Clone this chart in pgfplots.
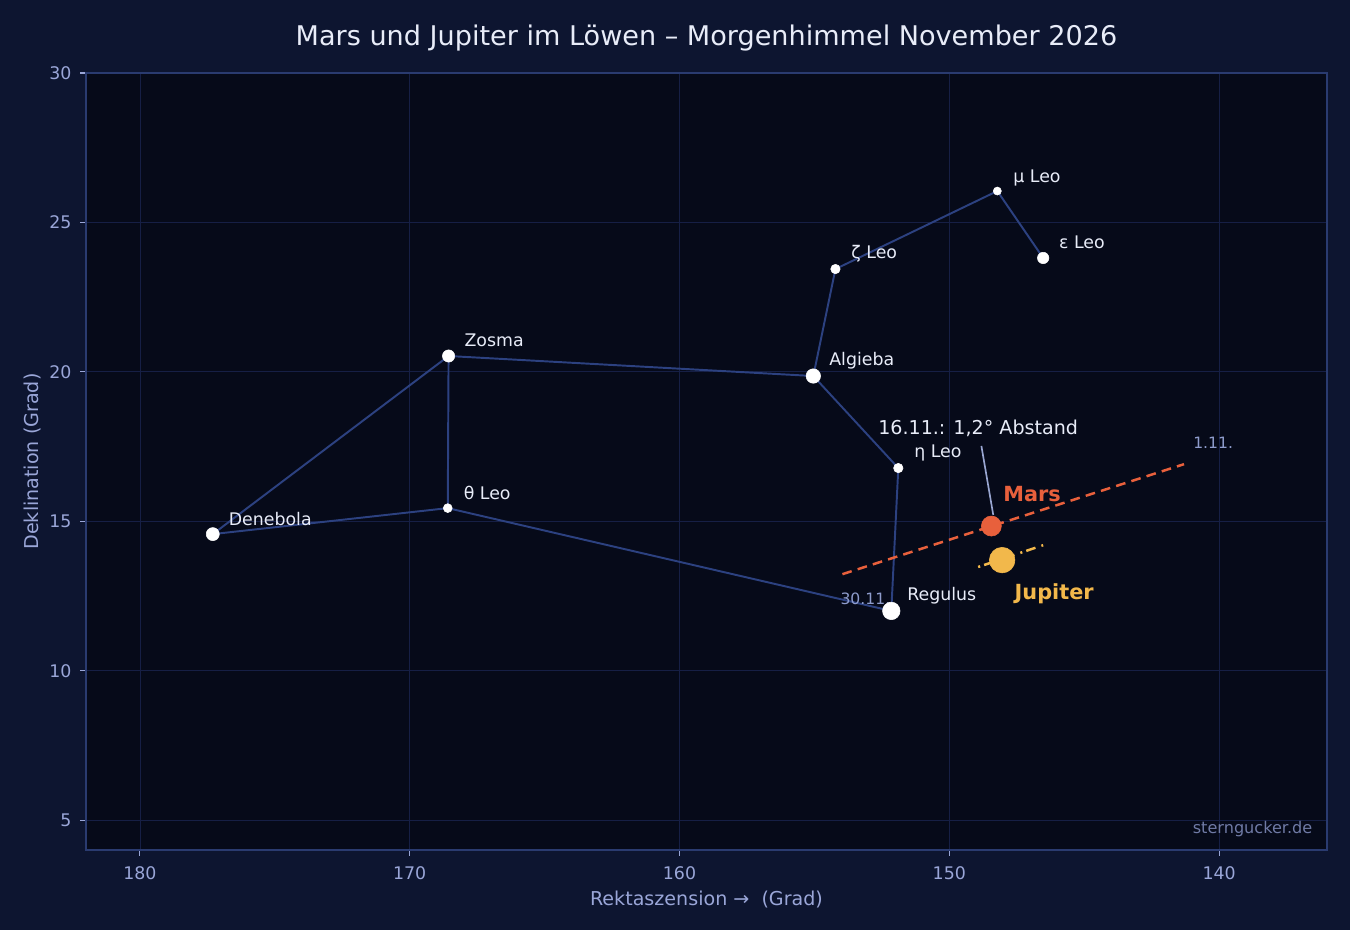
\documentclass[border=0pt]{standalone}
\usepackage{fontspec}
\setmainfont{DejaVu Sans}
\usepackage{pgfplots}
\pgfplotsset{compat=1.18}
\usepackage{pgfplotstable}

\definecolor{figbg}{HTML}{0D1530}
\definecolor{axbg}{HTML}{060A19}
\definecolor{axline}{HTML}{2A3B70}
\definecolor{gridc}{HTML}{161F45}
\definecolor{starline}{HTML}{2C4180}
\definecolor{ticklab}{HTML}{9AA6D8}
\definecolor{titlec}{HTML}{E8ECF8}
\definecolor{marsc}{HTML}{E8603C}
\definecolor{jupc}{HTML}{F2B84B}
\definecolor{datec}{HTML}{8E9CCC}
\definecolor{wmark}{HTML}{6F7AA5}

% star positions (RA deg, Dec deg)
\pgfplotstableread{
x y
146.52 23.81
148.22 26.05
154.22 23.44
155.04 19.86
151.89 16.78
152.15 12.00
168.59 15.44
177.30 14.57
168.56 20.53
155.04 19.86
}\figure
\pgfplotstableread{
x y
168.56 20.53
168.59 15.44
}\figureb

\begin{document}
\begin{tikzpicture}
\fill[figbg] (0,0) rectangle (972pt,669.6pt);
\useasboundingbox (0,0) rectangle (972pt,669.6pt);
\begin{axis}[
    at={(61.92pt,57.6pt)}, anchor=south west,
    scale only axis,
    width=893.52pt, height=559.44pt,
    x dir=reverse,
    xmin=136, xmax=182, ymin=4, ymax=30,
    xtick={140,150,...,180}, ytick={5,10,...,30},
    axis background/.style={fill=axbg},
    axis line style={axline, line width=1pt},
    grid=major,
    major grid style={gridc, line width=0.6pt},
    tick align=outside, tick pos=left,
    major tick length=4pt,
    tick style={ticklab, line width=0.8pt},
    /pgf/number format/assume math mode=true,
    ticklabel style={font=\fontsize{12.5}{15}\selectfont, text=ticklab},
    xticklabel style={yshift=-4.3pt},
    yticklabel style={xshift=-3pt},
    xlabel={Rektaszension →\ \ (Grad)},
    ylabel={Deklination (Grad)},
    label style={font=\fontsize{13.75}{16}\selectfont, text=ticklab},
    xlabel style={at={(axis description cs:0.5,-0.0643)}, anchor=center},
    ylabel style={at={(axis description cs:-0.0428,0.5)}, anchor=center},
    title={Mars und Jupiter im Löwen – Morgenhimmel November 2026},
    title style={at={(axis description cs:0.5,1.0347)}, anchor=center,
                 font=\fontsize{19.5}{23}\selectfont, text=titlec},
    clip=false,
]
% constellation lines
\addplot[starline, line width=1.4pt, no marks] table {\figure};
\addplot[starline, line width=1.4pt, no marks] table {\figureb};

% planet paths
\addplot[marsc, line width=1.8pt, dash pattern=on 7pt off 4.5pt, no marks]
    coordinates {(153.96,13.23) (141.30,16.91)};
\addplot[jupc, line width=1.8pt, dash pattern=on 1.5pt off 3pt on 7pt off 4.5pt, no marks]
    coordinates {(148.93,13.47) (146.52,14.20)};

% stars
\addplot[only marks, mark=*, mark size=6.3pt, white] coordinates {(152.15,12.00)};
\addplot[only marks, mark=*, mark size=5.2pt, white] coordinates {(155.04,19.86)};
\addplot[only marks, mark=*, mark size=4.7pt, white] coordinates {(177.30,14.57)};
\addplot[only marks, mark=*, mark size=4.4pt, white] coordinates {(168.56,20.53)};
\addplot[only marks, mark=*, mark size=4.1pt, white] coordinates {(146.52,23.81)};
\addplot[only marks, mark=*, mark size=3.4pt, white] coordinates {(154.22,23.44) (151.89,16.78)};
\addplot[only marks, mark=*, mark size=3.2pt, white] coordinates {(168.59,15.44)};
\addplot[only marks, mark=*, mark size=2.9pt, white] coordinates {(148.22,26.05)};

% annotation line
\addplot[datec!90!white, line width=1.2pt, no marks]
    coordinates {(148.81,17.52) (148.37,15.21)};

% planets
\addplot[only marks, mark=*, mark size=7.2pt, marsc] coordinates {(148.44,14.84)};
\addplot[only marks, mark=*, mark size=9.2pt, jupc] coordinates {(148.04,13.70)};

% labels
\begin{scope}[every node/.style={font=\fontsize{12.5}{15}\selectfont, text=titlec, anchor=west}]
\node at (axis cs:177.30,14.57) [xshift=8pt, yshift=11pt] {Denebola};
\node at (axis cs:168.56,20.53) [xshift=8pt, yshift=11pt] {Zosma};
\node at (axis cs:168.59,15.44) [xshift=8pt, yshift=11pt] {θ Leo};
\node at (axis cs:152.15,12.00) [xshift=8pt, yshift=11pt] {Regulus};
\node at (axis cs:151.89,16.78) [xshift=8pt, yshift=11pt] {η Leo};
\node at (axis cs:155.04,19.86) [xshift=8pt, yshift=11pt] {Algieba};
\node at (axis cs:154.22,23.44) [xshift=8pt, yshift=11pt] {ζ Leo};
\node at (axis cs:148.22,26.05) [xshift=8pt, yshift=9.5pt] {μ Leo};
\node at (axis cs:146.52,23.81) [xshift=8pt, yshift=11pt] {ε Leo};
\end{scope}

\node[font=\fontsize{13.75}{16}\selectfont, text=titlec] at (axis cs:148.93,18.12) {16.11.: 1,2° Abstand};
\node[font=\fontsize{15}{18}\selectfont\bfseries, text=marsc] at (axis cs:146.93,15.91) {Mars};
\node[font=\fontsize{15}{18}\selectfont\bfseries, text=jupc] at (axis cs:146.11,12.56) {Jupiter};
\node[font=\fontsize{11.25}{13}\selectfont, text=datec] at (axis cs:140.22,17.62) {1.11.};
\node[font=\fontsize{11.25}{13}\selectfont, text=datec] at (axis cs:153.11,12.40) {30.11.};
\node[font=\fontsize{11.6}{13}\selectfont, text=wmark, anchor=east]
    at (rel axis cs:1,0) [xshift=-7pt, yshift=15pt] {sterngucker.de};
\end{axis}
\end{tikzpicture}
\end{document}
